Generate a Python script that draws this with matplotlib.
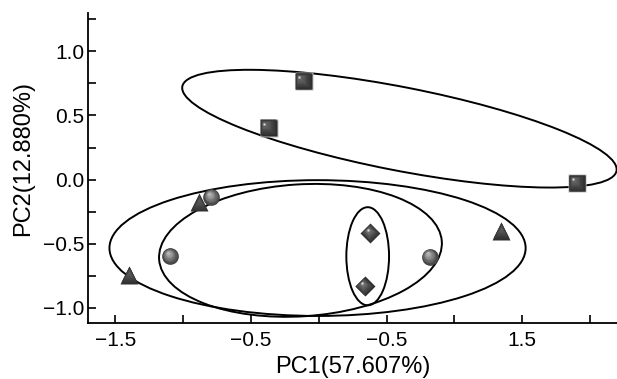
import matplotlib
matplotlib.use("Agg")
import matplotlib.pyplot as plt
from matplotlib.patches import Ellipse
from matplotlib.transforms import ScaledTranslation
import numpy as np

plt.rcParams['font.family'] = ['Liberation Sans', 'DejaVu Sans']

# scores for each group
sq_x = [-0.112, -0.370, 1.907]
sq_y = [0.766, 0.404, -0.031]
tri_x = [-0.887, -1.402, 1.341]
tri_y = [-0.177, -0.742, -0.398]
circ_x = [-0.793, -1.096, 0.819]
circ_y = [-0.138, -0.599, -0.604]
dia_x = [0.381, 0.339]
dia_y = [-0.416, -0.833]

# confidence ellipses: centre x, centre y, width, height, angle
ell_cx = [0.595, -0.009, -0.135, 0.361]
ell_cy = [0.397, -0.535, -0.553, -0.599]
ell_w = [3.27, 3.07, 2.09, 0.315]
ell_h = [0.65, 1.06, 1.03, 0.766]
ell_ang = [-11.7, 0.0, 3.9, 0.0]

xtick_pos = [-1.5, -1.0, -0.5, 0.0, 0.5, 1.0, 1.5, 2.0]
xtick_lab = ['\u22121.5', '', '\u22120.5', '', '\u22120.5', '', '1.5', '']
ytick_pos = [-1.0, -0.5, 0.0, 0.5, 1.0]
ytick_lab = ['\u22121.0', '\u22120.5', '0.0', '0.5', '1.0']


def mix(c1, c2, t):
    c1 = np.array(matplotlib.colors.to_rgb(c1))
    c2 = np.array(matplotlib.colors.to_rgb(c2))
    return tuple(c1 + (c2 - c1) * t)


def shaded(ax, fig, xs, ys, marker, ms, dark, light, off, n=10, edge=None, dot=False):
    # fake 3D look: stack smaller, lighter markers towards the highlight
    if edge is not None:
        ax.plot(xs, ys, ls='none', marker=marker, ms=ms + 1.2, color=edge,
                mec='none', zorder=3)
    for i in range(n):
        t = i / (n - 1)
        tr = ax.transData + ScaledTranslation(off[0] * t / 72, off[1] * t / 72,
                                              fig.dpi_scale_trans)
        ax.plot(xs, ys, ls='none', marker=marker, ms=ms * (1 - 0.85 * t),
                color=mix(dark, light, t), mec='none', transform=tr,
                zorder=3.1 + i * 0.01)
    if dot:
        tr = ax.transData + ScaledTranslation(off[0] / 72, off[1] / 72,
                                              fig.dpi_scale_trans)
        ax.plot(xs, ys, ls='none', marker='s', ms=1.5, color='#e0e0e0',
                mec='none', transform=tr, zorder=3.5)


fig = plt.figure(figsize=(6.17, 3.79), dpi=100)
ax = fig.add_axes([88.3 / 617, 56 / 379, 1 - 88.3 / 617, 310 / 379])

for cx, cy, w, h, a in zip(ell_cx, ell_cy, ell_w, ell_h, ell_ang):
    ax.add_patch(Ellipse((cx, cy), w, h, angle=a, fill=False, ec='black',
                         lw=1.4, zorder=2))

shaded(ax, fig, sq_x, sq_y, 's', 12, '#2a2a2a', '#6a6a6a', (-3.0, 3.0),
       edge='#bdbdbd', dot=True)
shaded(ax, fig, circ_x, circ_y, 'o', 12, '#3c3c3c', '#b8b8b8', (-1.5, 2.5))
shaded(ax, fig, tri_x, tri_y, '^', 12.5, '#303030', '#5a5a5a', (0.0, 1.5))
shaded(ax, fig, dia_x, dia_y, 'D', 10, '#2e2e2e', '#7a7a7a', (-2.0, 2.0), dot=True)

ax.set_xlim(-1.7, 2.2)
ax.set_ylim(-1.12, 1.3)

ax.spines['top'].set_visible(False)
ax.spines['right'].set_visible(False)
for s in ['left', 'bottom']:
    ax.spines[s].set_linewidth(1.3)

ax.set_xticks(xtick_pos)
ax.set_xticklabels(xtick_lab)
ax.set_yticks(ytick_pos)
ax.set_yticklabels(ytick_lab)
ax.set_yticks([-0.75, -0.25, 0.25, 0.75, 1.25], minor=True)
ax.tick_params(axis='both', which='both', direction='in', length=6, width=1.2,
               labelsize=15)
ax.tick_params(axis='x', pad=6)
ax.tick_params(axis='y', pad=3)

ax.set_xlabel('PC1(57.607%)', fontsize=17, labelpad=4)
ax.set_ylabel('PC2(12.880%)', fontsize=17, labelpad=6)
ax.yaxis.label.set_y(0.53)

fig.savefig('out.png', dpi=100)
